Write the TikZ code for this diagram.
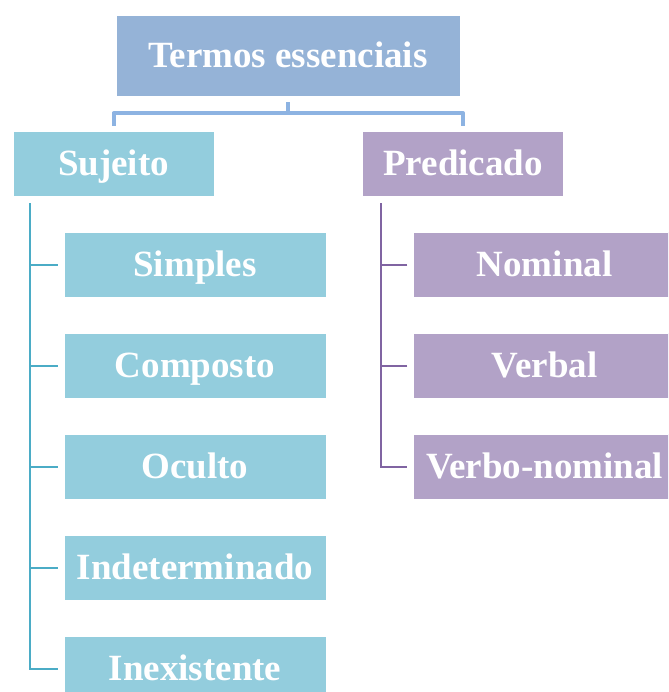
\documentclass[tikz,border=0pt]{standalone}
\usepackage{fontspec}
\setmainfont{Liberation Serif}
\usetikzlibrary{positioning}

\definecolor{topfill}{HTML}{95B3D7}
\definecolor{bracketcol}{HTML}{8DB3E2}
\definecolor{sujfill}{HTML}{93CDDD}
\definecolor{sujline}{HTML}{4BACC6}
\definecolor{predfill}{HTML}{B2A2C7}
\definecolor{predline}{HTML}{8064A2}

\tikzset{
  box/.style={draw=white, line width=0.6pt, text=white, inner sep=0pt,
    font=\fontsize{37}{40}\selectfont\bfseries,
    text height=24pt, text depth=0pt, minimum height=65pt},
  sbox/.style={box, fill=sujfill, minimum width=262pt},
  pbox/.style={box, fill=predfill, minimum width=262pt},
  bracket/.style={draw=bracketcol, line width=4pt, line join=round},
  slink/.style={draw=sujline, line width=2pt},
  plink/.style={draw=predline, line width=2pt},
}

\begin{document}
\begin{tikzpicture}[x=1pt,y=-1pt]
  \useasboundingbox (0,0) rectangle (668,692);
  \clip (0,0) rectangle (668,692);

  \node[box, fill=topfill, minimum width=344pt, minimum height=81pt] (t) at (288,55.5) {Termos essenciais};
  \node[sbox, minimum width=201pt] (s) at (113.5,163.5) {Sujeito};
  \node[pbox, minimum width=201pt, right=148pt of s] (p) {Predicado};

  % subject kinds
  \node[sbox] (s1) at (195,264.5) {Simples};
  \node[sbox, below=35.5pt of s1] (s2) {Composto};
  \node[sbox, below=35.5pt of s2] (s3) {Oculto};
  \node[sbox, below=35.5pt of s3] (s4) {Indeterminado};
  \node[sbox, below=35.5pt of s4] (s5) {Inexistente};

  % predicate kinds
  \node[pbox, right=87pt of s1] (p1) {Nominal};
  \node[pbox, below=35.5pt of p1] (p2) {Verbal};
  \node[pbox, below=35.5pt of p2] (p3) {Verbo-nominal};

  \draw[bracket] ([yshift=-6pt]t.south) -- ([yshift=-17pt]t.south);
  \draw[bracket] ([yshift=5pt]s.north) |- ([yshift=-17pt]t.south) -| ([yshift=5pt]p.north);

  \draw[slink] ([xshift=-83.5pt,yshift=-7pt]s.south) |- ([xshift=-6pt]s5.west);
  \foreach \n in {s1,s2,s3,s4}
    \draw[slink] ([xshift=-6pt]\n.west) -- ++(-28pt,0);

  \draw[plink] ([xshift=-82.5pt,yshift=-7pt]p.south) |- ([xshift=-6pt]p3.west);
  \foreach \n in {p1,p2}
    \draw[plink] ([xshift=-6pt]\n.west) -- ++(-27pt,0);
\end{tikzpicture}
\end{document}
